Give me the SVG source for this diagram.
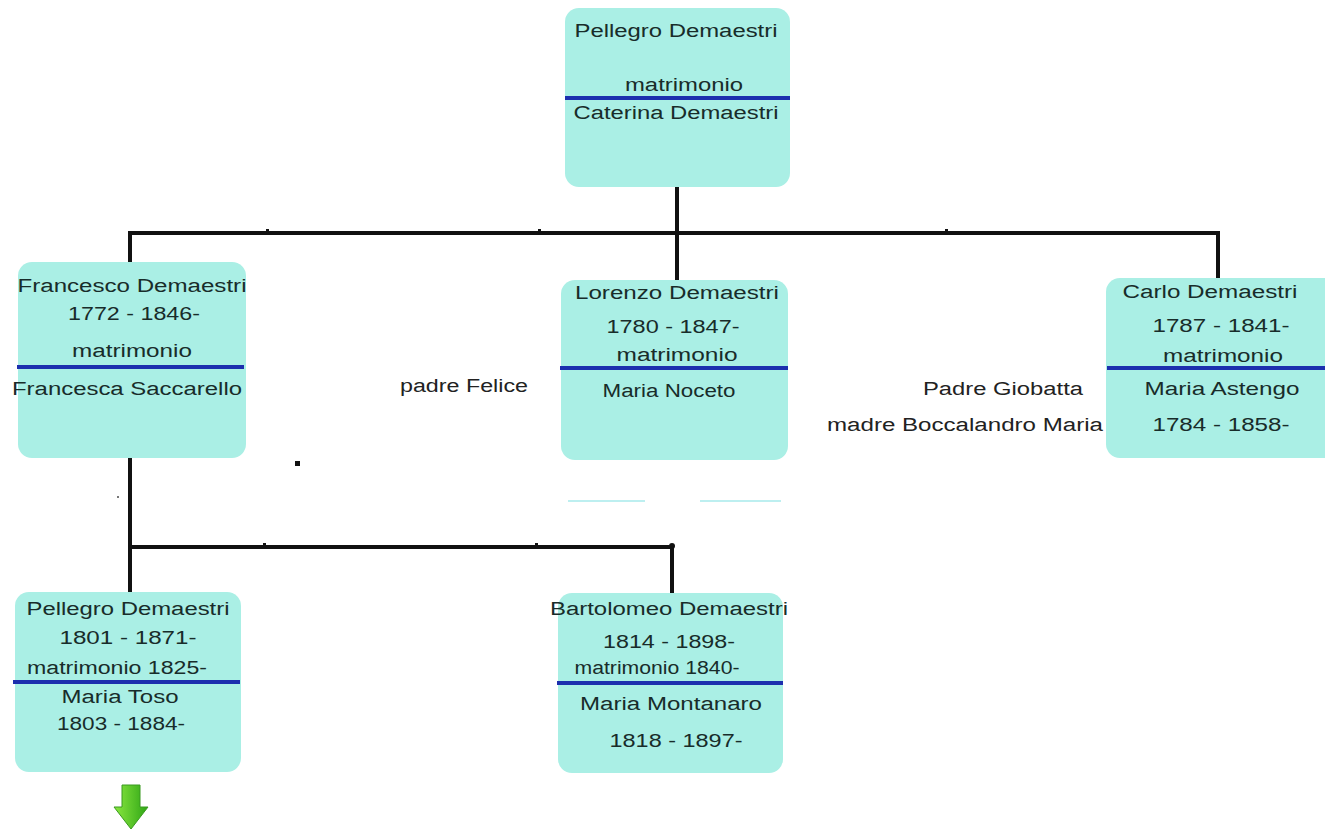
<svg xmlns="http://www.w3.org/2000/svg" width="1325" height="829" viewBox="0 0 1325 829">
<style>
.box{fill:#aaefe5;}
.t{font-family:"Liberation Sans",Arial,sans-serif;font-size:18px;fill:#182c2a;text-anchor:middle;}
.o{font-family:"Liberation Sans",Arial,sans-serif;font-size:18px;fill:#222;text-anchor:end;}
.sep{stroke:#1c2fae;stroke-width:4;}
.c{stroke:#111;stroke-width:4;fill:none;stroke-linecap:butt;}
</style>
<rect width="1325" height="829" fill="#fff"/>
<g id="connectors">
<line class="c" x1="677" y1="187" x2="677" y2="233"/>
<line class="c" x1="128" y1="233" x2="1220" y2="233"/>
<line class="c" x1="130" y1="231" x2="130" y2="275"/>
<line class="c" x1="677" y1="233" x2="677" y2="282"/>
<line class="c" x1="1218" y1="231" x2="1218" y2="281"/>
<line class="c" x1="130" y1="455" x2="130" y2="592"/>
<line class="c" x1="128" y1="547" x2="672" y2="547"/>
<line class="c" x1="672" y1="545" x2="672" y2="593"/>
<circle cx="672" cy="546" r="3" fill="#111"/>
<rect x="266" y="229" width="3" height="3" fill="#111"/>
<rect x="538" y="229" width="3" height="3" fill="#111"/>
<rect x="945" y="229" width="3" height="3" fill="#111"/>
<rect x="263" y="543" width="3" height="3" fill="#111"/>
<rect x="535" y="543" width="3" height="3" fill="#111"/>
<rect x="295" y="461" width="5" height="5" fill="#111"/>
<rect x="117" y="496" width="2" height="2" fill="#777"/>
<line x1="568" y1="501" x2="645" y2="501" stroke="#bdeff0" stroke-width="2"/>
<line x1="700" y1="501" x2="781" y2="501" stroke="#bdeff0" stroke-width="2"/>
</g>
<g id="n-pellegro-caterina">
<rect class="box" x="565" y="8" width="225" height="179" rx="14"/>
<line class="sep" x1="565" y1="98" x2="790" y2="98"/>
<text class="t" x="676" y="37" textLength="203" lengthAdjust="spacingAndGlyphs">Pellegro Demaestri</text>
<text class="t" x="684" y="91" textLength="118" lengthAdjust="spacingAndGlyphs">matrimonio</text>
<text class="t" x="676" y="119" textLength="205" lengthAdjust="spacingAndGlyphs">Caterina Demaestri</text>
</g>
<g id="n-francesco">
<rect class="box" x="18" y="262" width="228" height="196" rx="14"/>
<line class="sep" x1="17" y1="367" x2="244" y2="367"/>
<text class="t" x="132" y="292" textLength="229" lengthAdjust="spacingAndGlyphs">Francesco Demaestri</text>
<text class="t" x="134" y="320" textLength="132" lengthAdjust="spacingAndGlyphs">1772 - 1846-</text>
<text class="t" x="132" y="357" textLength="120" lengthAdjust="spacingAndGlyphs">matrimonio</text>
<text class="t" x="127" y="395" textLength="230" lengthAdjust="spacingAndGlyphs">Francesca Saccarello</text>
</g>
<g id="n-lorenzo">
<rect class="box" x="561" y="280" width="227" height="180" rx="14"/>
<line class="sep" x1="560" y1="368" x2="788" y2="368"/>
<text class="t" x="677" y="299" textLength="204" lengthAdjust="spacingAndGlyphs">Lorenzo Demaestri</text>
<text class="t" x="673" y="333" textLength="133" lengthAdjust="spacingAndGlyphs">1780 - 1847-</text>
<text class="t" x="677" y="361" textLength="121" lengthAdjust="spacingAndGlyphs">matrimonio</text>
<text class="t" x="669" y="397" textLength="133" lengthAdjust="spacingAndGlyphs">Maria Noceto</text>
</g>
<g id="l-padre-felice">
<text class="o" x="528" y="392" textLength="128" lengthAdjust="spacingAndGlyphs">padre Felice</text>
</g>
<g id="n-carlo">
<rect class="box" x="1106" y="278" width="240" height="180" rx="14"/>
<line class="sep" x1="1107" y1="368" x2="1325" y2="368"/>
<text class="t" x="1210" y="298" textLength="175" lengthAdjust="spacingAndGlyphs">Carlo Demaestri</text>
<text class="t" x="1221" y="332" textLength="137" lengthAdjust="spacingAndGlyphs">1787 - 1841-</text>
<text class="t" x="1223" y="362" textLength="120" lengthAdjust="spacingAndGlyphs">matrimonio</text>
<text class="t" x="1222" y="395" textLength="155" lengthAdjust="spacingAndGlyphs">Maria Astengo</text>
<text class="t" x="1221" y="431" textLength="137" lengthAdjust="spacingAndGlyphs">1784 - 1858-</text>
</g>
<g id="l-genitori-astengo">
<text class="o" x="1083" y="395" textLength="160" lengthAdjust="spacingAndGlyphs">Padre Giobatta</text>
<text class="o" x="1103" y="431" textLength="276" lengthAdjust="spacingAndGlyphs">madre Boccalandro Maria</text>
</g>
<g id="n-pellegro-toso">
<rect class="box" x="15" y="592" width="226" height="180" rx="14"/>
<line class="sep" x1="13" y1="682" x2="240" y2="682"/>
<text class="t" x="128" y="615" textLength="203" lengthAdjust="spacingAndGlyphs">Pellegro Demaestri</text>
<text class="t" x="128" y="644" textLength="137" lengthAdjust="spacingAndGlyphs">1801 - 1871-</text>
<text class="t" x="117" y="674" textLength="180" lengthAdjust="spacingAndGlyphs">matrimonio 1825-</text>
<text class="t" x="120" y="703" textLength="117" lengthAdjust="spacingAndGlyphs">Maria Toso</text>
<text class="t" x="121" y="730" textLength="128" lengthAdjust="spacingAndGlyphs">1803 - 1884-</text>
</g>
<g id="n-bartolomeo">
<rect class="box" x="558" y="593" width="225" height="180" rx="14"/>
<line class="sep" x1="557" y1="683" x2="783" y2="683"/>
<text class="t" x="669" y="615" textLength="238" lengthAdjust="spacingAndGlyphs">Bartolomeo Demaestri</text>
<text class="t" x="669" y="648" textLength="132" lengthAdjust="spacingAndGlyphs">1814 - 1898-</text>
<text class="t" x="657" y="674" textLength="165" lengthAdjust="spacingAndGlyphs">matrimonio 1840-</text>
<text class="t" x="671" y="710" textLength="182" lengthAdjust="spacingAndGlyphs">Maria Montanaro</text>
<text class="t" x="676" y="747" textLength="133" lengthAdjust="spacingAndGlyphs">1818 - 1897-</text>
</g>
<g id="n-arrow">
<defs>
<linearGradient id="g" x1="0" y1="0" x2="1" y2="0">
<stop offset="0" stop-color="#8be840"/>
<stop offset="1" stop-color="#2ea515"/>
</linearGradient>
</defs>
<path d="M122 785 H140 V807 H148 L131 829 L114 807 H122 Z" fill="url(#g)" stroke="#3a9a20" stroke-width="1"/>
</g>
</svg>
